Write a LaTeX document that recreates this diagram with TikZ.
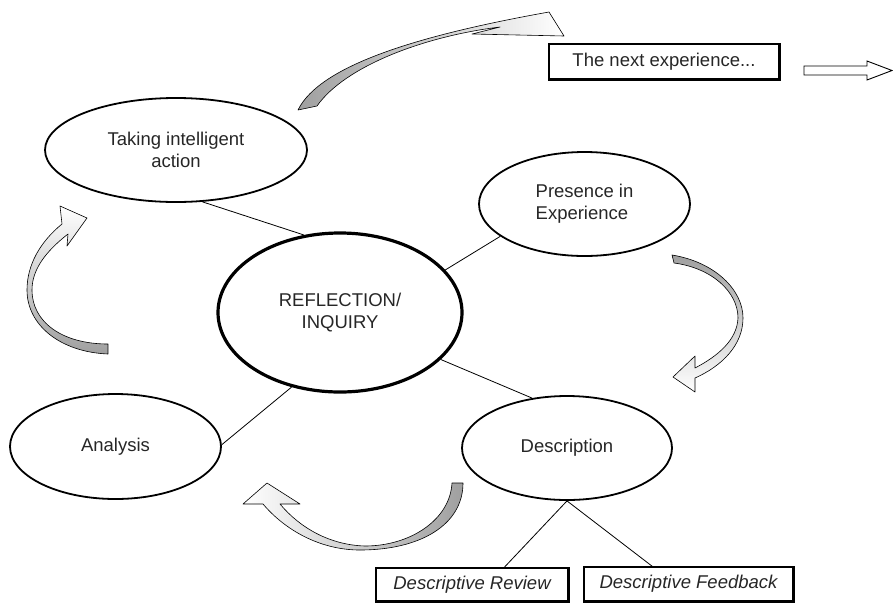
\documentclass[tikz,border=0pt]{standalone}
\usepackage{fontspec}
\setmainfont{Liberation Sans}
\usetikzlibrary{shapes.geometric}

\begin{document}
\begin{tikzpicture}[x=1pt,y=-1pt,
		stage/.style={ellipse, draw, line width=1.8pt, inner sep=0pt, text=black!85, font=\fontsize{18.5}{22}\selectfont, align=center},
		core/.style={stage, line width=3.2pt},
		note/.style={draw, line width=1.3pt, inner sep=0pt, text=black!85, font=\fontsize{18.5}{22}\selectfont},
		edgeline/.style={line width=2.6pt},
		link/.style={line width=0.8pt},
		turn/.style={draw=black, line width=0.6pt, line join=round}]
	\useasboundingbox (0,0) rectangle (893,603);
	\node (act) [stage, minimum width=262pt, minimum height=104pt] at (176,150) {Taking intelligent\\action};
	\node (pres) [stage, align=left, minimum width=211pt, minimum height=104pt] at (584.5,204) {Presence in\\Experience};
	\node (refl) [core, minimum width=244pt, minimum height=159pt] at (340,312.5) {REFLECTION/\\INQUIRY};
	\node (anal) [stage, minimum width=211pt, minimum height=105pt] at (115.5,446.5) {Analysis};
	\node (desc) [stage, minimum width=210pt, minimum height=104pt] at (567,448) {Description};
	\node (next) [note, minimum width=230pt, minimum height=35pt] at (664,61.5) {The next experience...};
	\node (review) [note, minimum width=192pt, minimum height=33pt] at (472,584.5) {\itshape Descriptive Review};
	\node (feedback) [note, minimum width=209pt, minimum height=34pt] at (688.5,584) {\itshape Descriptive Feedback};
	\coordinate (onward) at (804,70.5);

	\draw[edgeline] (next.north east) -- (next.south east) -- (next.south west);
	\draw[edgeline] (review.north east) -- (review.south east) -- (review.south west);
	\draw[edgeline] (feedback.north east) -- (feedback.south east) -- (feedback.south west);

	\draw[link] (act.297) -- (refl.115);
	\draw[link] (refl.22) -- (pres.201);
	\draw[link] (refl.237) -- (anal.1);
	\draw[link] (refl.-25) -- (desc.125);
	\draw[link] (desc.south) -- (review.28.8);
	\draw[link] (desc.south) -- (feedback.154.4);

	\draw[line width=0.9pt, fill=white] (onward) -- ++(0,-4.5) -- ++(63,0) -- ++(0,-5) -- ++(25,9.5) -- ++(-25,9.5) -- ++(0,-5) -- ++(-63,0) -- cycle;

	\draw[turn, left color=gray!75, right color=white]
		(298,110) .. controls (320,65) and (420,35) .. (549,12) -- (564,36) -- (472,34) -- (500,27)
		.. controls (425,36) and (345,66) .. (317,106) -- cycle;
	\draw[turn, top color=white, bottom color=gray!75]
		(108,354) .. controls (60,352) and (27,325) .. (27,290) .. controls (27,265) and (40,242) .. (62,224)
		-- (60,206) -- (87,218) -- (67,246) -- (68,234)
		.. controls (45,252) and (32,270) .. (32,290) .. controls (32,322) and (62,344) .. (108,344) -- cycle;
	\draw[turn, top color=gray!75, bottom color=white]
		(672,255) .. controls (715,262) and (743,290) .. (743,318) .. controls (743,345) and (722,366) .. (695,378)
		-- (695,392) -- (673,377) -- (695,356) -- (695,368)
		.. controls (718,356) and (737,340) .. (738,318) .. controls (738,292) and (712,268) .. (674,263) -- cycle;
	\draw[turn, left color=white, right color=gray!75]
		(463,483) .. controls (463,525) and (420,550) .. (360,550) .. controls (320,550) and (285,530) .. (263,504)
		-- (243,504) -- (267,483) -- (300,504) -- (280,504)
		.. controls (300,528) and (330,545) .. (365,546) .. controls (410,546) and (450,520) .. (452,483) -- cycle;
\end{tikzpicture}
\end{document}
